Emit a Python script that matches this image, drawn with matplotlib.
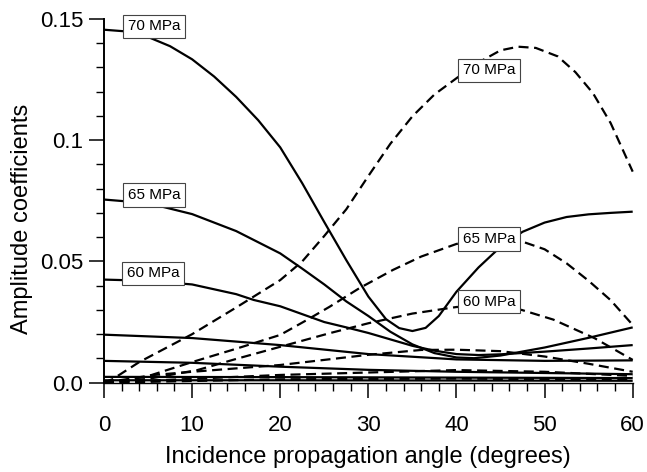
import matplotlib.pyplot as plt
from matplotlib.ticker import MultipleLocator, FixedLocator, FixedFormatter

plt.rcParams['font.family'] = ['Liberation Sans', 'DejaVu Sans']

# reflected amplitude coefficients (solid) vs incidence angle
s70_x = [0, 2.5, 5, 7.5, 10, 12.5, 15, 17.5, 20, 22.5, 25, 27.5, 30, 32, 33.5, 35, 36.5, 38, 40, 42.5, 45,
         47.5, 50, 52.5, 55, 57.5, 60]
s70_y = [0.1455, 0.1448, 0.1425, 0.1387, 0.1333, 0.1262, 0.1178, 0.1082, 0.097, 0.0822, 0.0662, 0.0505, 0.0355,
         0.0262, 0.0225, 0.0213, 0.0226, 0.0275, 0.0375, 0.0475, 0.056, 0.0622, 0.066, 0.0683, 0.0694, 0.07, 0.0705]
s65_x = [0, 5, 10, 15, 20, 22.5, 25, 27.5, 30, 32.5, 35, 37.5, 40, 42, 45, 50, 55, 60]
s65_y = [0.0755, 0.0740, 0.0695, 0.0625, 0.0533, 0.047, 0.0405, 0.0335, 0.0275, 0.021, 0.0158, 0.0122, 0.0104,
         0.0101, 0.0112, 0.0145, 0.0185, 0.0228]
s60_x = [0, 5, 10, 15, 17, 20, 25, 27.5, 30, 35, 37.5, 40, 42.5, 45, 50, 55, 60]
s60_y = [0.0425, 0.0420, 0.0405, 0.0365, 0.0341, 0.0315, 0.025, 0.0228, 0.0205, 0.0152, 0.0132, 0.0118, 0.0114,
         0.0117, 0.0128, 0.0141, 0.0155]
s55_x = [0, 10, 20, 30, 40, 50, 60]
s55_y = [0.0198, 0.0184, 0.0155, 0.0118, 0.0096, 0.0090, 0.0092]
s50_x = [0, 10, 20, 30, 40, 50, 60]
s50_y = [0.0090, 0.0082, 0.0066, 0.0053, 0.0045, 0.0040, 0.0035]
s45_x = [0, 20, 40, 60]
s45_y = [0.0024, 0.0023, 0.0021, 0.0019]
s40_x = [0, 20, 40, 60]
s40_y = [0.0010, 0.0010, 0.0009, 0.0008]

# transmitted amplitude coefficients (dashed)
d70_x = [0, 1, 4, 10, 15, 20, 22.5, 25, 27.5, 30, 32.5, 35, 37.5, 40, 42.5, 45, 47, 49, 51.5, 53.5, 55.5, 57.5, 60]
d70_y = [0.0, 0.0015, 0.0085, 0.020, 0.031, 0.0423, 0.050, 0.0605, 0.0715, 0.0852, 0.0985, 0.1098, 0.1188, 0.1255,
         0.132, 0.137, 0.1385, 0.138, 0.1345, 0.128, 0.1193, 0.107, 0.087]
d65_x = [0, 2, 4.9, 10, 15, 20, 23, 25.6, 29, 32.8, 36, 40, 43.5, 45, 47.2, 50, 52.5, 55, 57.5, 60]
d65_y = [0.0, 0.0008, 0.0026, 0.0085, 0.014, 0.0197, 0.0258, 0.0313, 0.039, 0.0465, 0.052, 0.0572, 0.0592,
         0.0592, 0.0585, 0.055, 0.0492, 0.042, 0.034, 0.0238]
d60_x = [0, 5, 10.6, 15, 20, 25.6, 30, 35, 40, 43.5, 47.4, 51, 55.7, 60]
d60_y = [0.0, 0.0016, 0.0052, 0.0098, 0.0148, 0.0204, 0.0245, 0.0285, 0.0312, 0.0315, 0.030, 0.026, 0.0183, 0.0094]
d55_x = [0, 5.7, 10, 20, 30, 36, 40, 45, 50, 55, 60]
d55_y = [0.0, 0.0032, 0.0045, 0.0073, 0.0115, 0.0135, 0.0136, 0.013, 0.0108, 0.0078, 0.0045]
d50_x = [0, 10, 20, 30, 40, 50, 60]
d50_y = [0.0, 0.0016, 0.0032, 0.0042, 0.0052, 0.0045, 0.0028]
d45_x = [0, 20, 40, 60]
d45_y = [0.0, 0.0014, 0.0017, 0.0012]

# curve labels: text, angle, value
labels = [("70 MPa", 5.7, 0.1469), ("65 MPa", 5.7, 0.0774), ("60 MPa", 5.6, 0.0451),
          ("70 MPa", 43.7, 0.1288), ("65 MPa", 43.7, 0.0592), ("60 MPa", 43.7, 0.0334)]

y_ticks = [0.0, 0.05, 0.1, 0.15]
y_tick_labels = ["0.0", "0.05", "0.1", "0.15"]
x_ticks = [0, 10, 20, 30, 40, 50, 60]

fig = plt.figure(figsize=(6.47, 4.72), dpi=100)
ax = fig.add_axes([104 / 647, 89.3 / 472, 528.7 / 647, 363.9 / 472])

solid = [(s70_x, s70_y), (s65_x, s65_y), (s60_x, s60_y), (s55_x, s55_y),
         (s50_x, s50_y), (s45_x, s45_y), (s40_x, s40_y)]
dashed = [(d70_x, d70_y), (d65_x, d65_y), (d60_x, d60_y), (d55_x, d55_y),
          (d50_x, d50_y), (d45_x, d45_y)]

for x, y in solid:
    ax.plot(x, y, color='black', lw=1.6, solid_capstyle='butt', solid_joinstyle='round', clip_on=False)
for x, y in dashed:
    ax.plot(x, y, color='black', lw=1.6, dashes=(4.5, 2.5), clip_on=False)

for text, x, y in labels:
    ax.text(x, y, text, fontsize=11, ha='center', va='center', zorder=5,
            bbox=dict(boxstyle='square,pad=0.3', fc='white', ec='#444444', lw=0.8))

ax.set_xlim(0, 60)
ax.set_ylim(0, 0.15)
ax.xaxis.set_major_locator(FixedLocator(x_ticks))
ax.xaxis.set_minor_locator(MultipleLocator(2))
ax.yaxis.set_major_locator(FixedLocator(y_ticks))
ax.yaxis.set_major_formatter(FixedFormatter(y_tick_labels))
ax.yaxis.set_minor_locator(MultipleLocator(0.01))

ax.tick_params(which='major', direction='out', length=11, width=1.1, labelsize=16, pad=4)
ax.tick_params(which='minor', direction='out', length=6, width=1.0)
ax.tick_params(axis='x', pad=12)

for side in ('top', 'right'):
    ax.spines[side].set_visible(False)
ax.spines['left'].set_linewidth(1.4)
ax.spines['bottom'].set_linewidth(1.0)

ax.set_xlabel("Incidence propagation angle (degrees)", fontsize=17)
ax.set_ylabel("Amplitude coefficients", fontsize=17)
ax.xaxis.set_label_coords(0.5, -0.175)
ax.yaxis.set_label_coords(-0.134, 0.45)

fig.savefig("out.png", dpi=100)
